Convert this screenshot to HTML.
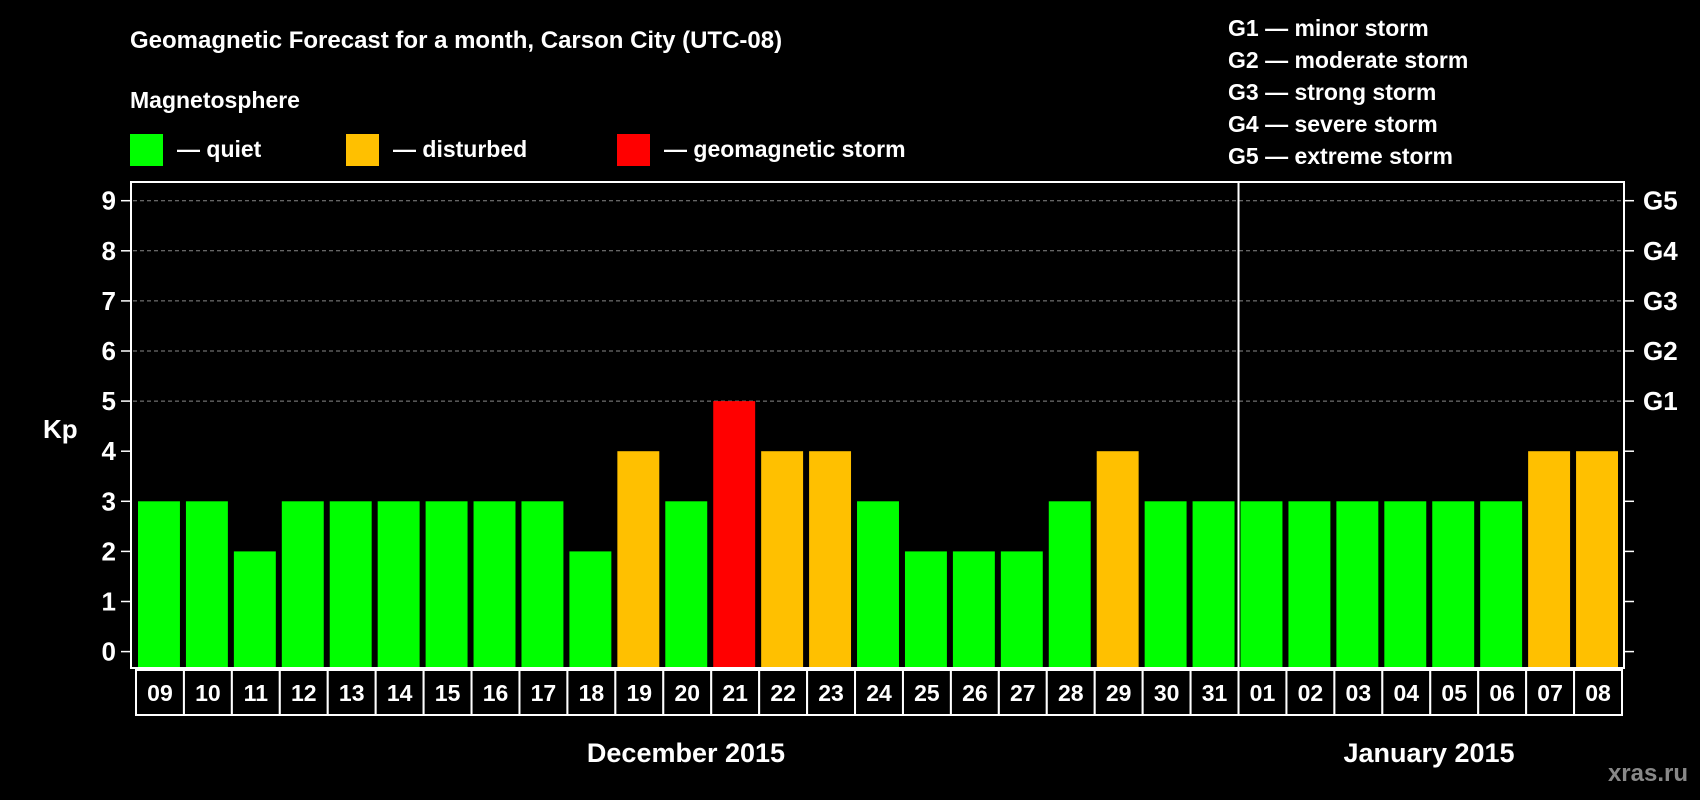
<!DOCTYPE html>
<html><head><meta charset="utf-8">
<style>
html,body{margin:0;padding:0;background:#000;}
svg{display:block;font-family:"Liberation Sans",Arial,sans-serif;font-weight:bold;}
</style></head>
<body>
<svg id="chart" width="1700" height="800" xmlns="http://www.w3.org/2000/svg">
<rect width="1700" height="800" fill="#000"/>
<text x="130" y="48" fill="#fff" font-size="24">Geomagnetic Forecast for a month, Carson City (UTC-08)</text>
<text x="130" y="108" fill="#fff" font-size="23">Magnetosphere</text>
<rect x="130" y="134" width="33" height="32" fill="#00ff00"/>
<text x="177" y="157" fill="#fff" font-size="23">— quiet</text>
<rect x="346" y="134" width="33" height="32" fill="#ffc000"/>
<text x="393" y="157" fill="#fff" font-size="23">— disturbed</text>
<rect x="617" y="134" width="33" height="32" fill="#ff0000"/>
<text x="664" y="157" fill="#fff" font-size="23">— geomagnetic storm</text>
<g fill="#fff" font-size="23">
<text x="1228" y="36">G1 — minor storm</text>
<text x="1228" y="68">G2 — moderate storm</text>
<text x="1228" y="100">G3 — strong storm</text>
<text x="1228" y="132">G4 — severe storm</text>
<text x="1228" y="164">G5 — extreme storm</text>
</g>
<text x="43" y="438" fill="#fff" font-size="26">Kp</text>
<text x="686" y="762" fill="#fff" font-size="27" text-anchor="middle">December 2015</text>
<text x="1429" y="762" fill="#fff" font-size="27" text-anchor="middle">January 2015</text>
<text x="1688" y="781" fill="#888" font-size="24" text-anchor="end">xras.ru</text>
<g id="plot"></g>
</svg>
<script>
const days = ["09","10","11","12","13","14","15","16","17","18","19","20","21","22","23","24","25","26","27","28","29","30","31","01","02","03","04","05","06","07","08"];
const kpValues = [3,3,2,3,3,3,3,3,3,2,4,3,5,4,4,3,2,2,2,3,4,3,3,3,3,3,3,3,3,4,4];
const yTicks = [0,1,2,3,4,5,6,7,8,9];
const gLabels = ["G1","G2","G3","G4","G5"];
const gLevels = [5,6,7,8,9];

const NS = "http://www.w3.org/2000/svg";
const g = document.getElementById('plot');
const L = 131, R = 1624, T = 182, B = 668;
const x0 = 136, pitch = (1622 - 136) / days.length;
function yS(v){ return 651.6 - v * 50.1; }
function xS(i){ return x0 + i * pitch; }
function mk(tag, attrs){ const e = document.createElementNS(NS, tag); for (const k in attrs) e.setAttribute(k, attrs[k]); g.appendChild(e); return e; }

// gridlines
gLevels.forEach(v => {
  const e = mk('line', {x1:L+2, x2:R-2, y1:yS(v), y2:yS(v), stroke:'#888', 'stroke-width':1, 'stroke-dasharray':'4,3'});
  
  
});
// bars
kpValues.forEach((v, i) => {
  const c = v >= 5 ? '#ff0000' : (v >= 4 ? '#ffc000' : '#00ff00');
  const e = mk('rect', {x:xS(i)+2, y:yS(v), width:pitch-6, height:B-1-yS(v), fill:c});
  
  
});
// frame
const fr = mk('rect', {x:L, y:T, width:R-L, height:B-T, fill:'none', stroke:'#fff', 'stroke-width':2});


// y ticks + labels
yTicks.forEach(v => {
  const a = mk('line', {x1:L-10, x2:L, y1:yS(v), y2:yS(v), stroke:'#fff', 'stroke-width':1.5});
  
  
  const b = mk('line', {x1:R, x2:R+10, y1:yS(v), y2:yS(v), stroke:'#fff', 'stroke-width':1.5});
  
  
  const t = mk('text', {x:116, y:yS(v)+9, fill:'#fff', 'font-size':26, 'text-anchor':'end'});
  t.textContent = v;
  
  
});
gLevels.forEach((v, i) => {
  const t = mk('text', {x:1643, y:yS(v)+9, fill:'#fff', 'font-size':26});
  t.textContent = gLabels[i];
  
  
});
// day label boxes
days.forEach((d, i) => {
  const r = mk('rect', {x:xS(i), y:670, width:pitch, height:45, fill:'#000', stroke:'#fff', 'stroke-width':2});
  
  
  const t = mk('text', {x:xS(i)+pitch/2, y:701, fill:'#fff', 'font-size':23, 'text-anchor':'middle'});
  t.textContent = d;
  
  
});
// month divider
const divX = xS(23);
const dv = mk('line', {x1:divX, x2:divX, y1:T, y2:715, stroke:'#fff', 'stroke-width':2});


</script>
</body></html>
